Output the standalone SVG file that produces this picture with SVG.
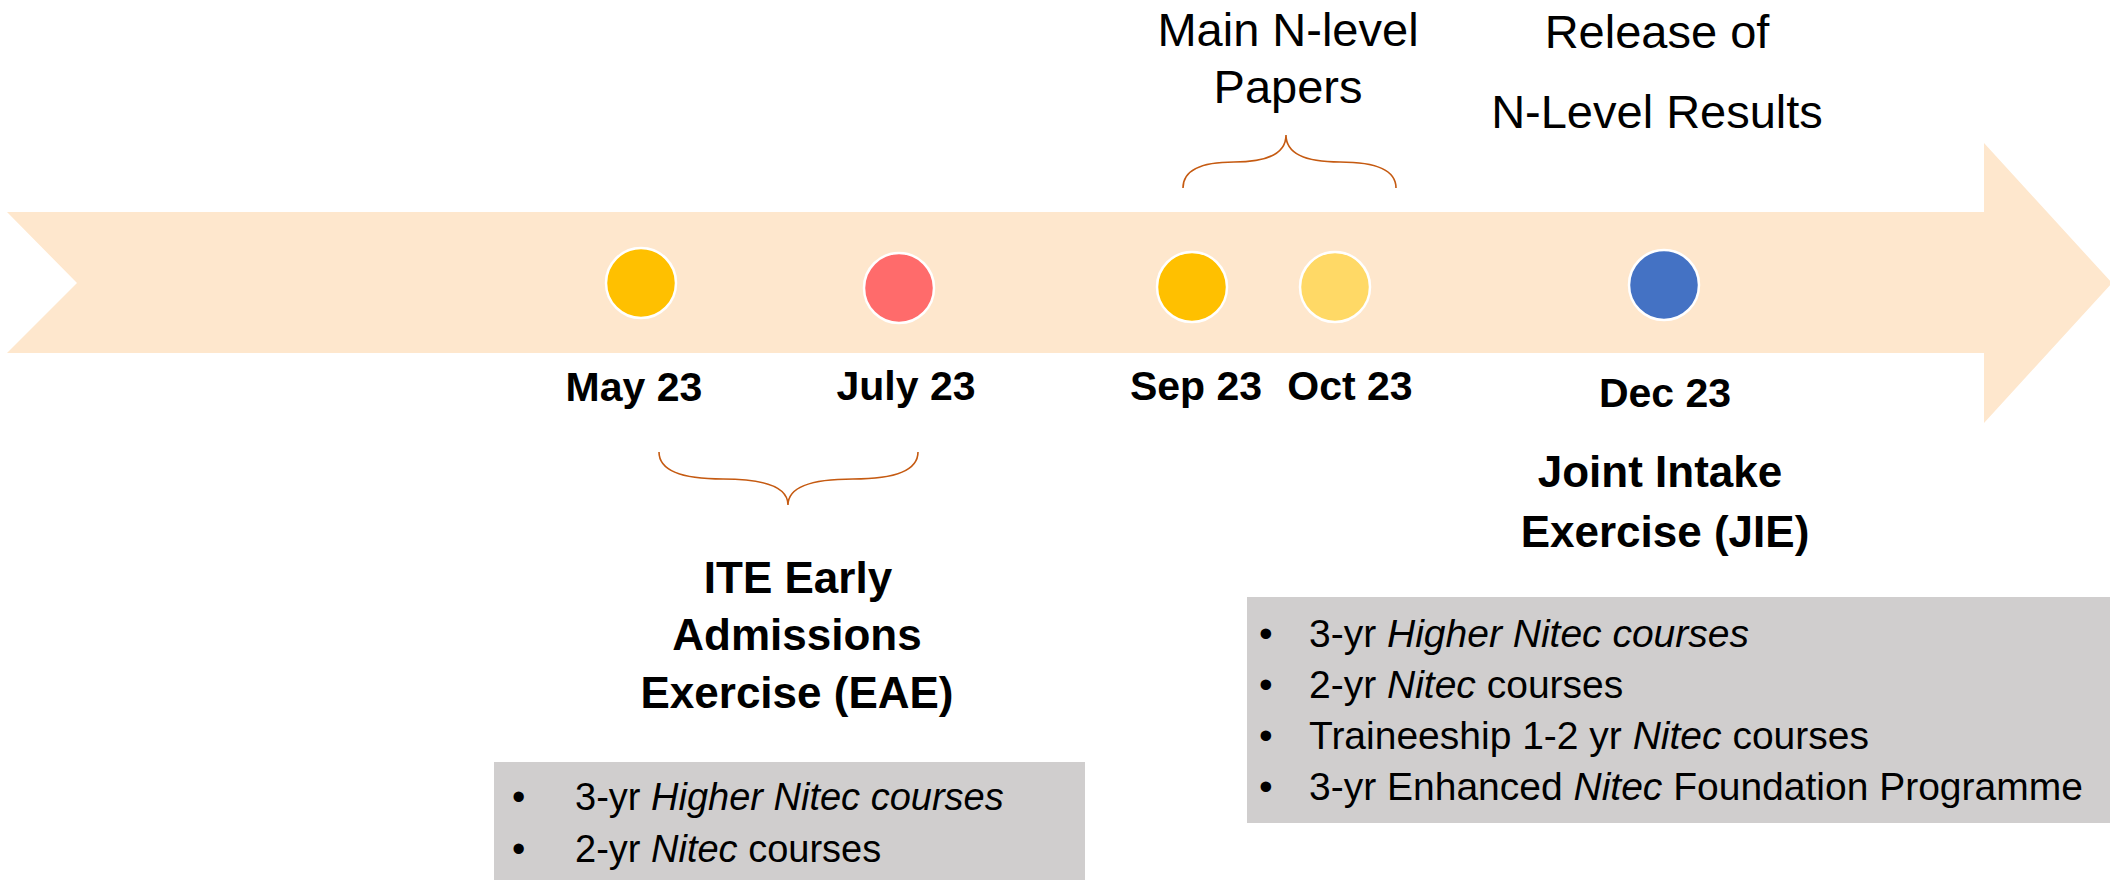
<svg xmlns="http://www.w3.org/2000/svg" width="2110" height="880" viewBox="0 0 2110 880">
<style>
  .band { fill: #FEE7CD; }
  .dot { stroke: #FFFFFF; stroke-width: 2.5; }
  .date { font-family: "Liberation Sans", Arial, sans-serif; font-weight: bold; font-size: 41px; fill: #000; text-anchor: middle; }
  .title { font-family: "Liberation Sans", Arial, sans-serif; font-weight: bold; font-size: 44px; fill: #000; text-anchor: middle; }
  .top { font-family: "Liberation Sans", Arial, sans-serif; font-size: 47px; fill: #000; text-anchor: middle; }
  .brace { fill: none; stroke: #C55A11; stroke-width: 1.6; }
  .box { fill: #D0CECE; }
  .item { font-family: "Liberation Sans", Arial, sans-serif; font-size: 38px; fill: #000; }
  .item2 { font-family: "Liberation Sans", Arial, sans-serif; font-size: 39px; fill: #000; }
  .it { font-style: italic; }
</style>
<rect width="2110" height="880" fill="#FFFFFF"/>
<g id="timeline-arrow">
  <path class="band" d="M7,212 L1984,212 L1984,143 L2112,283 L1984,423 L1984,353 L7,353 L77,283 Z"/>
</g>
<g id="may23">
  <circle class="dot" cx="641" cy="283" r="35" fill="#FFC000"/>
  <text class="date" x="634" y="401">May 23</text>
</g>
<g id="july23">
  <circle class="dot" cx="899" cy="288" r="35" fill="#FF6B6B"/>
  <text class="date" x="906" y="400">July 23</text>
</g>
<g id="sep23">
  <circle class="dot" cx="1192" cy="287" r="35" fill="#FFC000"/>
  <text class="date" x="1196" y="400">Sep 23</text>
</g>
<g id="oct23">
  <circle class="dot" cx="1335" cy="287" r="35" fill="#FFD966"/>
  <text class="date" x="1350" y="400">Oct 23</text>
</g>
<g id="dec23">
  <circle class="dot" cx="1664" cy="285" r="35" fill="#4472C4"/>
  <text class="date" x="1665" y="407">Dec 23</text>
</g>
<g id="connectors">
  <path class="brace" d="M659,452 Q659,479 723,479 Q788,479 788,505 Q788,479 853,479 Q918,479 918,452"/>
  <path class="brace" d="M1183,188 Q1183,162 1234,162 Q1286,162 1286,135 Q1286,162 1340,162 Q1396,162 1396,188"/>
</g>
<g id="main-papers">
  <text class="top" x="1288" y="46">Main N-level</text>
  <text class="top" x="1288" y="103">Papers</text>
</g>
<g id="release">
  <text class="top" x="1657" y="48">Release of</text>
  <text class="top" x="1657" y="128">N-Level Results</text>
</g>
<g id="eae">
  <text class="title" x="798" y="593">ITE Early</text>
  <text class="title" x="797" y="650">Admissions</text>
  <text class="title" x="797" y="708">Exercise (EAE)</text>
  <rect class="box" x="494" y="762" width="591" height="118"/>
  <text class="item" x="512" y="810">•</text>
  <text class="item" x="575" y="810">3-yr <tspan class="it">Higher Nitec courses</tspan></text>
  <text class="item" x="512" y="862">•</text>
  <text class="item" x="575" y="862">2-yr <tspan class="it">Nitec</tspan> courses</text>
</g>
<g id="jie">
  <text class="title" x="1660" y="487">Joint Intake</text>
  <text class="title" x="1665" y="547">Exercise (JIE)</text>
  <rect class="box" x="1247" y="597" width="863" height="226"/>
  <text class="item2" x="1259" y="647">•</text>
  <text class="item2" x="1309" y="647">3-yr <tspan class="it">Higher Nitec courses</tspan></text>
  <text class="item2" x="1259" y="698">•</text>
  <text class="item2" x="1309" y="698">2-yr <tspan class="it">Nitec</tspan> courses</text>
  <text class="item2" x="1259" y="749">•</text>
  <text class="item2" x="1309" y="749">Traineeship 1-2 yr <tspan class="it">Nitec</tspan> courses</text>
  <text class="item2" x="1259" y="800">•</text>
  <text class="item2" x="1309" y="800">3-yr Enhanced <tspan class="it">Nitec</tspan> Foundation Programme</text>
</g>
</svg>
